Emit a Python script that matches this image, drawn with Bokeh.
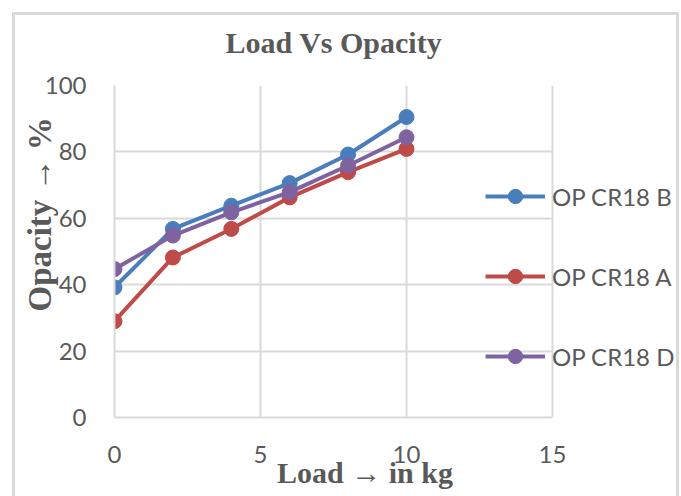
from bokeh.plotting import figure
from bokeh.models import Legend, LegendItem, BoxAnnotation, FixedTicker
from bokeh.embed import file_html
from bokeh.resources import INLINE

load = [0, 2, 4, 6, 8, 10]
op_b = [39.2, 56.8, 63.8, 70.6, 79.2, 90.5]
op_a = [29.0, 48.2, 56.8, 66.3, 73.9, 80.9]
op_d = [44.7, 54.8, 61.8, 67.9, 75.9, 84.4]
series_names = ["OP CR18 B", "OP CR18 A", "OP CR18 D"]
x_ticks = [0, 5, 10, 15]
y_ticks = [0, 20, 40, 60, 80, 100]
title_text = "Load Vs Opacity"
x_title = "Load \u2192 in kg"
y_title = "Opacity \u2192 %"

colors = ["#4A7EBB", "#BE4B48", "#7F63A1"]
grid = "#D9D9D9"
txt = "#595959"
NB = "\u00a0"

# plotting frame: x 114..675 px, y 85..417 px; x=15 falls at 552 px
x_end = 15 * (675 - 114) / 438

p = figure(width=681, height=496, output_backend="svg", toolbar_location=None,
           x_range=(0, x_end), y_range=(0, 100),
           min_border_left=114, min_border_right=6, min_border_top=85, min_border_bottom=79)
p.outline_line_color = None
p.background_fill_color = "white"
p.border_fill_alpha = 0
g = grid
p.styles = {
    "background": (f"linear-gradient({g},{g}) 12px 12px / 3px 490px no-repeat, "
                   f"linear-gradient({g},{g}) 12px 12px / 667px 3px no-repeat, "
                   f"linear-gradient({g},{g}) 676px 12px / 3px 490px no-repeat, #ffffff"),
}

p.title.text = title_text
p.title.align = "left"
p.title.offset = 111
p.title.vertical_align = "top"
p.title.standoff = 49
p.title.text_font = "Liberation Serif"
p.title.text_font_style = "bold"
p.title.text_font_size = "30px"
p.title.text_color = txt

p.xaxis.ticker = FixedTicker(ticks=x_ticks)
p.yaxis.ticker = FixedTicker(ticks=y_ticks)
p.xaxis.bounds = (0, 15)
for ax in (p.xaxis[0], p.yaxis[0]):
    ax.axis_line_color = grid
    ax.axis_line_width = 2
    ax.major_tick_line_color = None
    ax.minor_tick_line_color = None
    ax.major_label_text_font = "Lato"
    ax.major_label_text_font_size = "24px"
    ax.major_label_text_color = txt
    ax.axis_label_text_font = "Liberation Serif"
    ax.axis_label_text_font_style = "bold"
    ax.axis_label_text_color = txt
p.xaxis.major_label_standoff = 22
p.yaxis.major_label_standoff = 22
# trailing / leading no-break spaces only shift the centred axis titles
p.xaxis.axis_label = x_title + NB * 8
p.xaxis.axis_label_text_font_size = "30px"
p.xaxis.axis_label_standoff = -10
p.yaxis.axis_label = NB * 9 + y_title
p.yaxis.axis_label_text_font_size = "33px"
p.yaxis.axis_label_standoff = -16

p.xgrid.grid_line_color = grid
p.ygrid.grid_line_color = grid
p.xgrid.grid_line_width = 2
p.ygrid.grid_line_width = 2
try:
    p.ygrid.cross_bounds = (0, 15)
except AttributeError:
    p.add_layout(BoxAnnotation(left=15 + 15 / 438, fill_color="white", fill_alpha=1,
                               line_alpha=0))

items = []
for ys, c, name in zip([op_b, op_a, op_d], colors, series_names):
    l = p.line(load, ys, line_color=c, line_width=4)
    s = p.scatter(load, ys, size=15, fill_color=c, line_color=c)
    items.append(LegendItem(label=name, renderers=[l, s]))

legend = Legend(items=items, location=(371, 43))
legend.background_fill_alpha = 0
legend.border_line_alpha = 0
legend.padding = 0
legend.margin = 0
legend.glyph_width = 60
legend.glyph_height = 36
legend.label_height = 36
legend.spacing = 44
legend.label_standoff = 7
legend.label_text_font = "Lato"
legend.label_text_font_size = "24px"
legend.label_text_color = txt
p.add_layout(legend)

open("out.html", "w").write(file_html(p, INLINE))
